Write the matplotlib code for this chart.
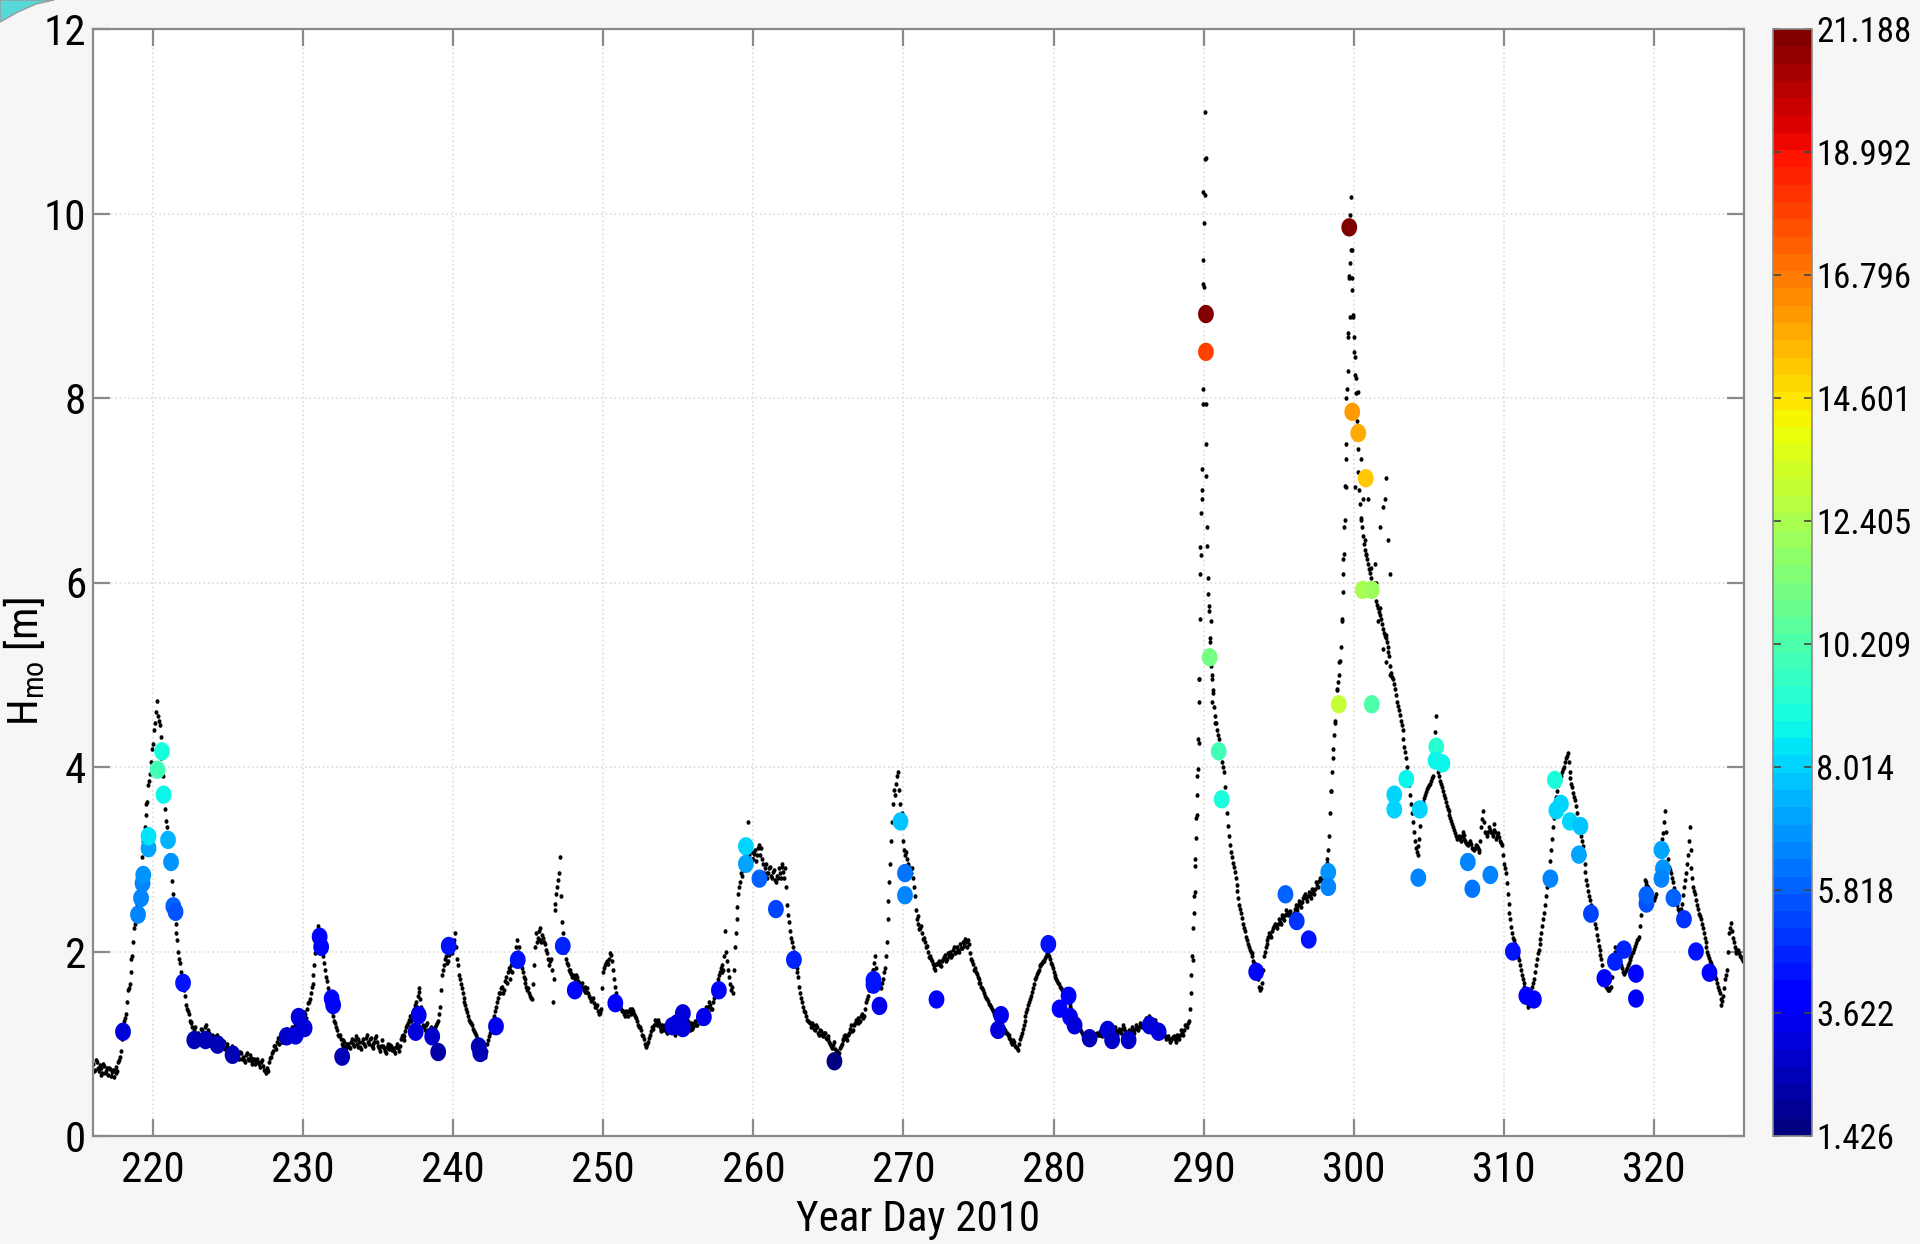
import numpy as np
import matplotlib.pyplot as plt
from matplotlib import font_manager as fm
from matplotlib.path import Path
from matplotlib.patches import PathPatch

names = {f.name for f in fm.fontManager.ttflist}
if 'Liberation Sans Narrow' in names:
    fam, tick_fs, cbar_fs = 'Liberation Sans Narrow', 31, 28
elif 'Roboto Condensed' in names:
    fam, tick_fs, cbar_fs = 'Roboto Condensed', 31, 25
else:
    fam, tick_fs, cbar_fs = 'Liberation Sans', 29, 23.5
plt.rcParams['font.family'] = [fam, 'DejaVu Sans']
plt.rcParams['mathtext.default'] = 'regular'

# significant wave height, read off at 3-hour steps (8 per day) from day 216,
# first the on-the-hour readings, then the ones half a step later
start_day = 216
per_day = 8
hs_a = [
    [0.78, 0.72, 0.80, 0.70, 0.74, 0.68, 0.76, 0.71],  # 216
    [0.66, 0.73, 0.69, 0.64, 0.75, 0.70, 0.82, 0.92],
    [1.15, 1.28, 1.45, 1.60, 1.78, 1.95, 2.25, 2.40],
    [2.52, 2.78, 3.02, 3.30, 3.48, 3.62, 3.85, 4.05],
    [4.25, 4.48, 4.72, 4.50, 4.32, 3.98, 3.72, 3.42],  # 220
    [3.18, 2.98, 2.76, 2.52, 2.30, 2.12, 1.92, 1.78],
    [1.66, 1.52, 1.38, 1.32, 1.22, 1.18, 1.15, 1.10],
    [1.12, 1.05, 1.15, 1.08, 1.20, 1.06, 1.12, 1.02],
    [1.08, 1.00, 1.10, 0.98, 1.04, 0.95, 1.02, 0.96],
    [0.95, 0.88, 0.98, 0.90, 0.86, 0.92, 0.84, 0.90],
    [0.86, 0.80, 0.90, 0.82, 0.85, 0.78, 0.84, 0.80],
    [0.80, 0.75, 0.82, 0.72, 0.68, 0.74, 0.80, 0.86],
    [0.92, 0.98, 1.02, 1.00, 1.10, 1.05, 1.12, 1.08],
    [1.14, 1.10, 1.18, 1.12, 1.22, 1.16, 1.25, 1.20],
    [1.28, 1.32, 1.38, 1.45, 1.55, 1.65, 1.85, 2.05],  # 230
    [2.28, 2.18, 2.02, 1.88, 1.72, 1.60, 1.48, 1.40],
    [1.30, 1.22, 1.15, 1.08, 1.05, 0.98, 1.02, 0.95],
    [1.00, 0.95, 1.05, 0.98, 1.08, 0.96, 1.02, 0.94],
    [1.05, 0.98, 1.10, 1.00, 1.06, 0.95, 1.02, 1.08],
    [0.98, 0.92, 1.04, 0.95, 0.90, 1.00, 0.94, 0.98],
    [0.95, 0.90, 1.00, 0.92, 1.05, 1.10, 1.08, 1.18],
    [1.22, 1.30, 1.28, 1.38, 1.45, 1.52, 1.60, 1.40],
    [1.20, 1.15, 1.22, 1.12, 1.18, 1.10, 1.15, 1.20],
    [1.25, 1.40, 1.75, 1.85, 1.95, 1.90, 1.98, 2.05],
    [2.05, 2.20, 1.92, 1.75, 1.65, 1.55, 1.45, 1.38],  # 240
    [1.30, 1.24, 1.20, 1.14, 1.10, 1.04, 0.98, 0.90],
    [0.88, 0.86, 1.00, 1.08, 1.15, 1.22, 1.30, 1.40],
    [1.50, 1.55, 1.62, 1.58, 1.72, 1.78, 1.70, 1.85],
    [1.90, 1.98, 2.12, 2.05, 1.85, 1.78, 1.70, 1.62],
    [1.60, 1.52, 1.48, 1.85, 2.20, 2.15, 2.25, 2.10],
    [2.15, 2.08, 1.98, 1.85, 1.92, 1.45, 2.52, 2.62],
    [2.78, 3.02, 2.32, 2.10, 1.92, 1.85, 1.80, 1.76],
    [1.75, 1.70, 1.72, 1.66, 1.64, 1.60, 1.62, 1.56],
    [1.55, 1.50, 1.48, 1.44, 1.40, 1.36, 1.33, 1.38],
    [1.78, 1.85, 1.90, 1.92, 1.96, 1.80, 1.62, 1.48],  # 250
    [1.45, 1.40, 1.35, 1.32, 1.36, 1.30, 1.38, 1.34],
    [1.36, 1.30, 1.25, 1.18, 1.15, 1.08, 1.00, 0.96],
    [1.02, 1.10, 1.18, 1.20, 1.24, 1.26, 1.18, 1.15],
    [1.15, 1.20, 1.12, 1.18, 1.22, 1.16, 1.10, 1.20],
    [1.15, 1.22, 1.18, 1.12, 1.20, 1.25, 1.15, 1.20],
    [1.18, 1.25, 1.20, 1.28, 1.22, 1.30, 1.35, 1.38],
    [1.40, 1.42, 1.38, 1.50, 1.62, 1.70, 1.78, 1.85],
    [1.80, 2.22, 1.90, 1.72, 1.58, 1.55, 2.05, 2.35],
    [2.62, 2.75, 2.82, 2.92, 3.02, 3.40, 2.95, 3.00],
    [3.00, 3.10, 3.05, 3.15, 3.12, 2.95, 2.90, 2.85],  # 260
    [2.85, 2.92, 2.80, 2.88, 2.75, 2.80, 2.85, 2.92],
    [2.86, 2.90, 2.50, 2.32, 2.15, 2.05, 1.95, 1.82],
    [1.72, 1.55, 1.45, 1.36, 1.30, 1.25, 1.22, 1.20],
    [1.20, 1.15, 1.18, 1.10, 1.14, 1.08, 1.12, 1.05],
    [1.05, 1.00, 0.95, 1.02, 0.90, 0.86, 0.95, 1.00],
    [1.05, 1.10, 1.04, 1.12, 1.20, 1.15, 1.22, 1.25],
    [1.28, 1.25, 1.32, 1.30, 1.45, 1.52, 1.62, 1.75],
    [1.80, 1.95, 1.75, 1.65, 1.60, 1.70, 1.82, 2.10],
    [2.55, 2.95, 3.40, 3.75, 3.82, 3.95, 3.60, 3.50],
    [3.20, 3.05, 3.00, 2.92, 2.85, 2.80, 2.60, 2.35],  # 270
    [2.30, 2.25, 2.20, 2.15, 2.05, 2.00, 1.95, 1.90],
    [1.85, 1.80, 1.86, 1.90, 1.84, 1.92, 1.96, 1.92],
    [1.95, 2.00, 1.96, 2.05, 2.00, 2.02, 2.08, 2.04],
    [2.10, 2.14, 2.05, 2.08, 1.92, 1.86, 1.82, 1.76],
    [1.70, 1.66, 1.60, 1.55, 1.50, 1.46, 1.42, 1.38],
    [1.35, 1.30, 1.28, 1.24, 1.20, 1.18, 1.15, 1.12],
    [1.10, 1.05, 1.00, 1.02, 0.97, 0.93, 1.05, 1.12],
    [1.20, 1.30, 1.38, 1.45, 1.52, 1.60, 1.70, 1.76],
    [1.80, 1.85, 1.88, 1.90, 1.95, 2.00, 1.92, 1.85],
    [1.78, 1.72, 1.68, 1.65, 1.60, 1.55, 1.52, 1.48],  # 280
    [1.45, 1.40, 1.35, 1.32, 1.25, 1.20, 1.16, 1.12],
    [1.10, 1.06, 1.04, 1.00, 1.05, 1.08, 1.10, 1.12],
    [1.10, 1.14, 1.08, 1.15, 1.12, 1.18, 1.10, 1.15],
    [1.12, 1.18, 1.10, 1.16, 1.12, 1.20, 1.14, 1.10],
    [1.15, 1.10, 1.18, 1.12, 1.20, 1.15, 1.22, 1.18],
    [1.22, 1.28, 1.25, 1.30, 1.24, 1.20, 1.26, 1.18],
    [1.15, 1.12, 1.18, 1.10, 1.05, 1.08, 1.02, 1.06],
    [1.08, 1.02, 1.10, 1.05, 1.15, 1.10, 1.20, 1.18],
    [1.25, 1.55, 1.95, 2.60, 3.45, 4.30, 5.60, 7.00],
    [9.20, 10.60, 6.40, 5.75, 5.10, 4.80, 4.55, 4.40],  # 290
    [4.30, 4.18, 4.05, 3.95, 3.62, 3.36, 3.15, 3.02],
    [2.92, 2.80, 2.66, 2.50, 2.42, 2.30, 2.22, 2.12],
    [2.05, 2.00, 1.95, 1.88, 1.83, 1.70, 1.58, 1.66],
    [1.95, 2.05, 2.12, 2.20, 2.16, 2.25, 2.30, 2.26],
    [2.35, 2.30, 2.40, 2.34, 2.45, 2.40, 2.44, 2.36],
    [2.42, 2.50, 2.45, 2.55, 2.48, 2.58, 2.62, 2.55],
    [2.64, 2.58, 2.68, 2.62, 2.75, 2.70, 2.80, 2.76],
    [2.85, 2.92, 3.00, 3.25, 3.74, 4.20, 4.50, 4.85],
    [5.00, 5.30, 5.90, 6.60, 7.50, 8.70, 9.90, 9.30],
    [8.50, 8.05, 7.45, 7.00, 6.70, 6.50, 6.35, 6.25],  # 300
    [6.15, 6.05, 5.95, 6.00, 5.80, 5.72, 5.65, 5.55],
    [5.45, 5.40, 5.30, 5.20, 5.02, 4.95, 4.85, 4.70],
    [4.62, 4.50, 4.40, 4.22, 4.10, 3.90, 3.70, 3.50],
    [3.30, 3.12, 3.05, 3.22, 3.50, 3.62, 3.70, 3.76],
    [3.80, 3.85, 3.90, 4.20, 4.55, 3.95, 3.85, 3.78],
    [3.70, 3.62, 3.55, 3.48, 3.42, 3.35, 3.28, 3.22],
    [3.25, 3.20, 3.30, 3.22, 3.18, 3.15, 3.20, 3.12],
    [3.10, 3.15, 3.12, 3.08, 3.35, 3.52, 3.30, 3.25],
    [3.35, 3.30, 3.25, 3.38, 3.22, 3.28, 3.20, 3.15],
    [2.95, 2.85, 2.62, 2.42, 2.27, 2.15, 2.08, 1.96],  # 310
    [1.91, 1.80, 1.70, 1.62, 1.48, 1.40, 1.45, 1.62],
    [1.70, 1.85, 1.98, 2.08, 2.20, 2.35, 2.50, 2.70],
    [2.85, 3.10, 3.35, 3.55, 3.68, 3.80, 3.86, 3.95],
    [4.00, 4.10, 4.15, 3.95, 3.82, 3.72, 3.64, 3.50],
    [3.35, 3.25, 3.14, 2.95, 2.78, 2.66, 2.56, 2.45],
    [2.36, 2.25, 2.12, 2.02, 1.92, 1.78, 1.65, 1.60],
    [1.58, 1.62, 1.85, 2.05, 1.96, 1.92, 1.88, 1.82],
    [1.76, 1.80, 1.85, 1.91, 1.95, 2.00, 2.06, 2.12],
    [2.16, 2.40, 2.56, 2.78, 2.72, 2.70, 2.65, 2.60],
    [2.56, 2.62, 2.85, 3.06, 3.15, 3.28, 3.52, 3.10],  # 320
    [2.92, 2.85, 2.75, 2.63, 2.55, 2.46, 2.41, 2.52],
    [2.70, 2.85, 3.05, 3.35, 2.90, 2.70, 2.62, 2.50],
    [2.41, 2.35, 2.25, 2.15, 2.05, 1.96, 1.90, 1.84],
    [1.75, 1.70, 1.62, 1.55, 1.42, 1.52, 1.70, 1.80],
    [2.20, 2.31, 2.15, 2.05, 1.98, 2.02, 1.95, 1.92],  # 325
]
hs_b = [
    [0.70, 0.82, 0.74, 0.77, 0.66, 0.78, 0.68, 0.74],  # 216
    [0.74, 0.65, 0.72, 0.70, 0.68, 0.80, 0.86, 1.05],
    [1.25, 1.32, 1.58, 1.65, 1.92, 2.10, 2.30, 2.52],
    [2.70, 2.85, 3.20, 3.35, 3.60, 3.80, 3.92, 4.20],
    [4.40, 4.60, 4.55, 4.45, 4.10, 3.90, 3.55, 3.35],  # 220
    [3.05, 2.90, 2.62, 2.45, 2.20, 2.00, 1.88, 1.70],
    [1.58, 1.42, 1.36, 1.25, 1.24, 1.12, 1.18, 1.08],
    [1.02, 1.16, 1.04, 1.18, 1.10, 1.15, 1.05, 1.10],
    [1.05, 1.08, 0.96, 1.06, 0.98, 1.03, 0.94, 1.00],
    [0.92, 0.94, 0.86, 0.95, 0.90, 0.85, 0.91, 0.83],
    [0.82, 0.88, 0.84, 0.88, 0.80, 0.83, 0.78, 0.84],
    [0.78, 0.80, 0.76, 0.70, 0.73, 0.70, 0.85, 0.90],
    [0.98, 0.94, 1.06, 1.05, 1.02, 1.12, 1.06, 1.16],
    [1.08, 1.16, 1.12, 1.20, 1.14, 1.24, 1.18, 1.26],
    [1.34, 1.28, 1.44, 1.48, 1.62, 1.75, 1.98, 2.18],  # 230
    [2.20, 2.12, 1.95, 1.80, 1.68, 1.52, 1.46, 1.34],
    [1.25, 1.18, 1.10, 1.10, 1.00, 1.04, 0.96, 1.00],
    [0.96, 1.02, 1.00, 1.04, 1.00, 1.05, 0.97, 1.02],
    [1.00, 1.06, 1.02, 1.05, 0.98, 1.00, 1.06, 1.02],
    [0.95, 0.98, 0.98, 0.92, 0.96, 0.95, 0.99, 0.93],
    [0.92, 0.96, 0.95, 0.98, 1.08, 1.04, 1.14, 1.20],
    [1.26, 1.25, 1.35, 1.42, 1.40, 1.56, 1.48, 1.28],
    [1.18, 1.20, 1.15, 1.16, 1.14, 1.14, 1.18, 1.22],
    [1.32, 1.58, 1.80, 1.92, 1.88, 1.96, 2.02, 1.98],
    [2.12, 2.05, 1.85, 1.70, 1.60, 1.50, 1.42, 1.34],  # 240
    [1.26, 1.22, 1.16, 1.12, 1.06, 1.02, 0.94, 0.92],
    [0.90, 0.92, 1.04, 1.12, 1.18, 1.28, 1.35, 1.45],
    [1.55, 1.60, 1.55, 1.68, 1.66, 1.82, 1.80, 1.78],
    [1.96, 2.05, 2.00, 1.92, 1.82, 1.72, 1.66, 1.58],
    [1.55, 1.50, 1.65, 2.05, 2.10, 2.22, 2.12, 2.18],
    [2.10, 2.02, 1.92, 1.90, 1.80, 1.70, 2.45, 2.70],
    [2.85, 2.60, 2.20, 2.00, 1.88, 1.80, 1.78, 1.72],
    [1.72, 1.74, 1.68, 1.62, 1.66, 1.58, 1.56, 1.60],
    [1.52, 1.46, 1.50, 1.40, 1.42, 1.32, 1.36, 1.60],
    [1.82, 1.88, 1.86, 1.98, 1.90, 1.70, 1.55, 1.44],  # 250
    [1.42, 1.38, 1.36, 1.30, 1.34, 1.35, 1.32, 1.38],
    [1.32, 1.28, 1.20, 1.18, 1.10, 1.05, 0.98, 1.00],
    [1.06, 1.14, 1.16, 1.26, 1.20, 1.22, 1.14, 1.20],
    [1.18, 1.14, 1.16, 1.22, 1.18, 1.12, 1.16, 1.14],
    [1.20, 1.16, 1.15, 1.18, 1.24, 1.18, 1.22, 1.16],
    [1.22, 1.20, 1.26, 1.24, 1.28, 1.32, 1.40, 1.36],
    [1.45, 1.38, 1.45, 1.55, 1.65, 1.75, 1.82, 1.78],
    [1.95, 2.00, 1.80, 1.65, 1.62, 1.80, 2.20, 2.48],
    [2.70, 2.85, 2.88, 2.98, 3.10, 3.05, 2.98, 3.08],
    [3.06, 2.98, 3.12, 3.05, 3.00, 2.85, 2.95, 2.80],  # 260
    [2.90, 2.82, 2.86, 2.78, 2.82, 2.90, 2.80, 2.95],
    [2.80, 2.70, 2.40, 2.22, 2.10, 2.00, 1.88, 1.78],
    [1.62, 1.50, 1.40, 1.34, 1.26, 1.24, 1.18, 1.22],
    [1.16, 1.20, 1.12, 1.15, 1.10, 1.12, 1.06, 1.08],
    [1.02, 0.98, 0.99, 0.94, 0.92, 0.90, 0.98, 1.04],
    [1.08, 1.06, 1.10, 1.16, 1.14, 1.20, 1.26, 1.22],
    [1.24, 1.30, 1.28, 1.38, 1.48, 1.58, 1.68, 1.80],
    [1.88, 1.82, 1.70, 1.62, 1.66, 1.78, 1.95, 2.35],
    [2.75, 3.20, 3.60, 3.70, 3.90, 3.75, 3.45, 3.35],
    [3.10, 3.08, 2.95, 2.88, 2.90, 2.70, 2.45, 2.38],  # 270
    [2.24, 2.28, 2.14, 2.10, 2.06, 1.94, 1.92, 1.86],
    [1.82, 1.86, 1.88, 1.85, 1.90, 1.94, 1.90, 1.98],
    [1.98, 1.94, 2.02, 1.98, 2.05, 2.00, 2.04, 2.10],
    [2.06, 2.10, 2.12, 1.98, 1.90, 1.80, 1.78, 1.72],
    [1.66, 1.62, 1.58, 1.52, 1.49, 1.43, 1.40, 1.36],
    [1.32, 1.28, 1.25, 1.22, 1.18, 1.16, 1.12, 1.10],
    [1.06, 1.02, 1.04, 0.98, 0.95, 1.00, 1.08, 1.16],
    [1.25, 1.34, 1.42, 1.48, 1.56, 1.65, 1.72, 1.78],
    [1.84, 1.86, 1.90, 1.93, 1.98, 1.95, 1.88, 1.82],
    [1.75, 1.70, 1.66, 1.62, 1.58, 1.54, 1.50, 1.46],  # 280
    [1.42, 1.38, 1.34, 1.28, 1.22, 1.18, 1.14, 1.10],
    [1.08, 1.05, 1.02, 1.03, 1.06, 1.09, 1.11, 1.10],
    [1.12, 1.10, 1.12, 1.13, 1.15, 1.14, 1.13, 1.13],
    [1.15, 1.14, 1.13, 1.14, 1.16, 1.17, 1.12, 1.13],
    [1.12, 1.14, 1.15, 1.16, 1.17, 1.18, 1.20, 1.20],
    [1.25, 1.26, 1.28, 1.27, 1.22, 1.23, 1.22, 1.16],
    [1.14, 1.15, 1.14, 1.08, 1.06, 1.05, 1.04, 1.07],
    [1.05, 1.06, 1.08, 1.10, 1.12, 1.15, 1.19, 1.22],
    [1.38, 1.75, 2.25, 3.00, 3.90, 4.95, 6.30, 8.10],
    [10.20, 7.50, 6.05, 5.40, 4.95, 4.65, 4.48, 4.35],  # 290
    [4.22, 4.12, 4.00, 3.78, 3.50, 3.25, 3.08, 2.96],
    [2.86, 2.72, 2.58, 2.46, 2.36, 2.26, 2.16, 2.08],
    [2.02, 1.98, 1.90, 1.86, 1.76, 1.62, 1.60, 1.80],
    [2.00, 2.08, 2.16, 2.18, 2.22, 2.28, 2.28, 2.30],
    [2.32, 2.36, 2.37, 2.40, 2.42, 2.43, 2.40, 2.40],
    [2.46, 2.48, 2.50, 2.52, 2.54, 2.60, 2.58, 2.60],
    [2.60, 2.63, 2.65, 2.68, 2.72, 2.76, 2.78, 2.80],
    [2.88, 2.96, 3.10, 3.50, 3.95, 4.35, 4.70, 4.92],
    [5.15, 5.60, 6.25, 7.05, 8.10, 9.30, 9.60, 8.90],
    [8.25, 7.75, 7.20, 6.85, 6.60, 6.42, 6.30, 6.20],  # 300
    [6.10, 6.00, 5.98, 5.90, 5.76, 5.68, 5.60, 5.50],
    [5.42, 5.35, 5.25, 5.10, 4.98, 4.90, 4.78, 4.66],
    [4.56, 4.45, 4.30, 4.16, 4.00, 3.80, 3.60, 3.40],
    [3.20, 3.08, 3.14, 3.36, 3.56, 3.66, 3.73, 3.78],
    [3.82, 3.88, 4.05, 4.38, 4.25, 3.90, 3.82, 3.74],
    [3.66, 3.58, 3.52, 3.45, 3.38, 3.32, 3.25, 3.24],
    [3.22, 3.25, 3.26, 3.20, 3.16, 3.18, 3.16, 3.11],
    [3.12, 3.14, 3.10, 3.20, 3.44, 3.40, 3.28, 3.30],
    [3.32, 3.28, 3.32, 3.30, 3.25, 3.24, 3.18, 3.05],
    [2.90, 2.74, 2.52, 2.35, 2.20, 2.12, 2.02, 1.94],  # 310
    [1.85, 1.75, 1.66, 1.55, 1.44, 1.42, 1.54, 1.66],
    [1.78, 1.92, 2.02, 2.14, 2.28, 2.42, 2.60, 2.78],
    [2.98, 3.22, 3.45, 3.62, 3.74, 3.84, 3.90, 3.98],
    [4.05, 4.12, 4.05, 3.88, 3.78, 3.68, 3.58, 3.42],
    [3.30, 3.20, 3.05, 2.86, 2.72, 2.60, 2.50, 2.40],
    [2.30, 2.18, 2.06, 1.96, 1.85, 1.72, 1.62, 1.58],
    [1.60, 1.72, 1.95, 2.00, 1.94, 1.90, 1.85, 1.78],
    [1.78, 1.82, 1.88, 1.93, 1.98, 2.03, 2.09, 2.14],
    [2.28, 2.48, 2.66, 2.75, 2.71, 2.68, 2.62, 2.58],
    [2.59, 2.74, 2.95, 3.10, 3.22, 3.40, 3.30, 3.00],  # 320
    [2.88, 2.80, 2.69, 2.59, 2.50, 2.44, 2.46, 2.61],
    [2.78, 2.95, 3.20, 3.10, 2.80, 2.66, 2.56, 2.46],
    [2.38, 2.30, 2.20, 2.10, 2.00, 1.93, 1.87, 1.80],
    [1.72, 1.66, 1.58, 1.48, 1.46, 1.60, 1.75, 2.00],
    [2.26, 2.22, 2.10, 2.02, 2.00, 1.98, 1.94, 1.90],  # 325
]

# extra readings in the two storm peaks (dense sampling there)
storm_day = [289.31, 289.38, 289.42, 289.42, 289.49, 289.53, 289.58, 289.65, 289.69,
             289.71, 289.69, 289.76, 289.76, 289.80, 289.87, 289.91, 289.93, 289.98,
             289.98, 290.04, 289.98, 290.07, 290.09, 290.16, 290.16, 290.20, 290.27,
             290.38, 290.47, 290.42, 290.53, 290.64, 290.58, 290.75,
             298.51, 298.63, 298.74, 298.85, 299.02, 299.22, 299.29, 299.33, 299.40,
             299.45, 299.51, 299.51, 299.62, 299.62, 299.73, 299.69, 299.78, 299.78,
             299.84, 299.91, 299.91, 299.96, 300.00, 300.07, 300.18, 300.29, 300.18,
             300.40, 300.51, 300.07, 300.62, 300.51, 300.73, 300.84, 301.18, 301.51,
             301.29, 301.73, 301.62, 302.17, 301.95, 302.17, 302.40, 302.17, 302.06,
             301.95, 302.28, 302.40, 301.73, 301.40, 300.95]
storm_hs = [1.91, 2.42, 2.64, 2.93, 3.23, 3.48, 3.70, 3.98, 4.26,
            4.70, 4.95, 6.09, 6.38, 6.75, 6.90, 7.23, 7.94, 9.24,
            9.50, 9.90, 10.23, 10.59, 11.10, 7.94, 7.15, 6.60, 5.87,
            5.69, 5.58, 5.36, 5.00, 4.84, 4.70, 4.48,
            3.74, 4.10, 4.48, 4.84, 5.14, 5.58, 6.09, 6.31, 6.68,
            7.04, 7.34, 8.00, 8.29, 8.66, 8.88, 9.32, 9.46, 9.98,
            10.18, 9.60, 9.17, 8.88, 8.66, 8.44, 8.22, 8.07, 7.85,
            7.63, 7.34, 7.04, 6.90, 6.68, 6.46, 6.31, 6.16, 6.00,
            5.87, 5.72, 5.58, 5.43, 5.28, 5.14, 5.00, 7.13, 6.90,
            6.82, 6.46, 6.09, 6.60, 6.20, 6.90]

# coloured events: day, Hmo, colour value
event_day = [218.0, 219.0, 219.2, 219.3, 219.35, 219.7, 219.7, 220.3, 220.6, 220.7,
             221.0, 221.2, 221.35, 221.5, 222.0, 222.75, 223.5, 224.3, 225.3, 228.9,
             229.5, 229.7, 230.1, 231.1, 231.2, 231.9, 232.0, 232.6,
             237.7, 237.5, 238.6, 239.0, 239.7, 241.7, 241.8, 242.85, 244.3, 247.3,
             248.1, 250.8,
             254.6, 254.9, 255.3, 255.3, 256.7, 257.7, 259.5, 259.5, 260.4, 261.5,
             262.7, 265.4, 268.0, 268.0, 268.4, 269.8, 270.1, 270.1, 272.2,
             276.5, 276.3, 279.65, 281.0, 280.4, 281.1, 281.4, 282.4, 283.6, 283.9,
             285.0, 286.4, 287.0,
             290.15, 290.15, 290.4, 291.0, 291.2, 293.5, 295.45, 296.2, 297.0, 298.3,
             298.3, 299.0, 299.7, 299.9, 300.3, 300.8, 300.6, 301.2, 301.2, 302.7,
             302.7, 303.5, 304.3, 304.4, 305.5, 305.45, 305.9,
             307.6, 307.9, 309.1, 310.6, 311.5, 312.0, 313.1, 313.4, 313.8, 313.5,
             314.4, 315.1, 315.0, 315.8, 316.7, 317.4, 318.0, 318.8, 318.8, 319.5,
             319.5, 320.5, 320.6, 320.5, 321.3, 322.0, 322.8, 323.7]
event_hs = [1.13, 2.40, 2.58, 2.74, 2.83, 3.12, 3.25, 3.97, 4.17, 3.70,
            3.21, 2.97, 2.49, 2.43, 1.66, 1.04, 1.04, 0.99, 0.88, 1.08,
            1.09, 1.29, 1.17, 2.16, 2.05, 1.49, 1.42, 0.86,
            1.31, 1.13, 1.08, 0.91, 2.06, 0.97, 0.90, 1.19, 1.91, 2.06,
            1.58, 1.44,
            1.19, 1.22, 1.33, 1.17, 1.29, 1.58, 3.14, 2.95, 2.79, 2.46,
            1.91, 0.81, 1.69, 1.64, 1.41, 3.41, 2.85, 2.61, 1.48,
            1.31, 1.15, 2.08, 1.52, 1.38, 1.29, 1.20, 1.06, 1.15, 1.04,
            1.04, 1.20, 1.13,
            8.91, 8.50, 5.19, 4.17, 3.65, 1.78, 2.62, 2.33, 2.13, 2.86,
            2.70, 4.68, 9.85, 7.85, 7.62, 7.13, 5.92, 5.92, 4.68, 3.70,
            3.54, 3.87, 2.80, 3.54, 4.22, 4.07, 4.04,
            2.97, 2.68, 2.83, 2.00, 1.52, 1.48, 2.79, 3.86, 3.60, 3.53,
            3.41, 3.36, 3.05, 2.41, 1.71, 1.89, 2.02, 1.76, 1.49, 2.52,
            2.61, 3.10, 2.90, 2.79, 2.58, 2.35, 2.00, 1.77]
event_val = [3.0, 6.5, 6.5, 6.6, 6.7, 7.2, 8.5, 10.0, 9.0, 8.8,
             7.4, 6.8, 5.8, 5.6, 4.5, 2.6, 2.6, 2.5, 2.4, 2.8,
             3.0, 3.2, 3.0, 4.2, 4.2, 4.0, 4.0, 2.4,
             3.3, 3.0, 2.8, 2.3, 4.3, 2.5, 2.4, 3.5, 4.3, 4.6,
             4.2, 3.8,
             3.0, 3.0, 3.2, 3.0, 3.4, 4.2, 8.0, 7.0, 6.0, 5.3,
             4.8, 1.426, 4.3, 4.3, 3.4, 7.9, 6.2, 6.4, 3.7,
             3.4, 3.2, 4.5, 4.0, 3.7, 3.4, 3.0, 2.6, 3.0, 2.7,
             2.7, 3.1, 3.1,
             21.0, 17.9, 11.2, 9.8, 9.0, 4.0, 5.8, 5.0, 4.5, 6.8,
             6.4, 13.0, 21.188, 16.0, 15.8, 15.3, 12.3, 12.2, 10.3, 8.2,
             8.0, 8.7, 6.6, 8.0, 9.3, 8.7, 8.7,
             6.5, 6.2, 6.4, 4.3, 3.8, 3.8, 6.5, 9.0, 8.0, 8.0,
             8.0, 7.8, 7.0, 5.4, 4.0, 4.7, 4.7, 4.2, 3.7, 5.6,
             5.8, 7.2, 6.8, 6.5, 6.0, 5.0, 4.5, 4.2]

cbar_labels = ['1.426', '3.622', '5.818', '8.014', '10.209',
               '12.405', '14.601', '16.796', '18.992', '21.188']
cbar_ticks = [float(s) for s in cbar_labels]

a = np.array(hs_a).ravel()
b = np.array(hs_b).ravel()
day_a = start_day + np.arange(len(a)) / per_day
day_b = day_a + 0.5 / per_day

fig = plt.figure(figsize=(19.2, 12.44), dpi=100, facecolor='#f6f6f6')
ax = fig.add_axes([93/1920, 108/1244, 1651/1920, 1107/1244])
cax = fig.add_axes([1773/1920, 108/1244, 39/1920, 1107/1244])

# slightly tall marker, like the stretched screenshot
t = np.linspace(0, 2*np.pi, 41)
oval = Path(np.column_stack([0.86*np.cos(t), np.sin(t)]), closed=True)

for xs, ys in [(day_a, a), (day_b, b), (storm_day, storm_hs)]:
    ax.scatter(xs, ys, s=11, c='k', marker=oval, linewidths=0, zorder=2)

cmap = plt.get_cmap('jet', 64)
sc = ax.scatter(event_day, event_hs, c=event_val, cmap=cmap, vmin=cbar_ticks[0],
                vmax=cbar_ticks[-1], s=175, marker=oval, linewidths=0, zorder=3)

ax.set_xlim(216, 326)
ax.set_ylim(0, 12)
ax.set_xticks(range(220, 321, 10))
ax.set_yticks(range(0, 13, 2))
ax.grid(True, color='#dcdcdc', linestyle=':', linewidth=1.2)
ax.set_axisbelow(True)
for sp in ax.spines.values():
    sp.set_color('#8a8a8a')
    sp.set_linewidth(1.6)
ax.tick_params(direction='in', length=12, width=1.6, color='#8a8a8a',
               top=True, right=True, labelsize=tick_fs, labelcolor='black')
ax.tick_params(axis='x', pad=10)
ax.tick_params(axis='y', pad=5)
ax.set_xlabel('Year Day 2010', fontsize=tick_fs, labelpad=6)
fig.text(1/1920, 582/1244, 'H$_{mo}$ [m]', rotation=90, fontsize=tick_fs,
         ha='left', va='center')

cb = fig.colorbar(sc, cax=cax, ticks=cbar_ticks)
cb.ax.set_yticklabels(cbar_labels)
cb.outline.set_edgecolor('#8a8a8a')
cb.outline.set_linewidth(1.2)
cax.tick_params(direction='in', length=6, width=1.2, color='#444444',
                left=True, right=True, labelsize=cbar_fs, pad=3)

# corner swoosh of the slide template
sw = Path(np.array([(0, 1222), (18, 1232), (36, 1240), (54, 1244), (0, 1244), (0, 1222)])
          / [1920, 1244])
fig.add_artist(PathPatch(sw, transform=fig.transFigure, facecolor='#58d8d8',
                         edgecolor='#9a9a9a', linewidth=1))

fig.savefig('out.png', dpi=100, facecolor=fig.get_facecolor())
